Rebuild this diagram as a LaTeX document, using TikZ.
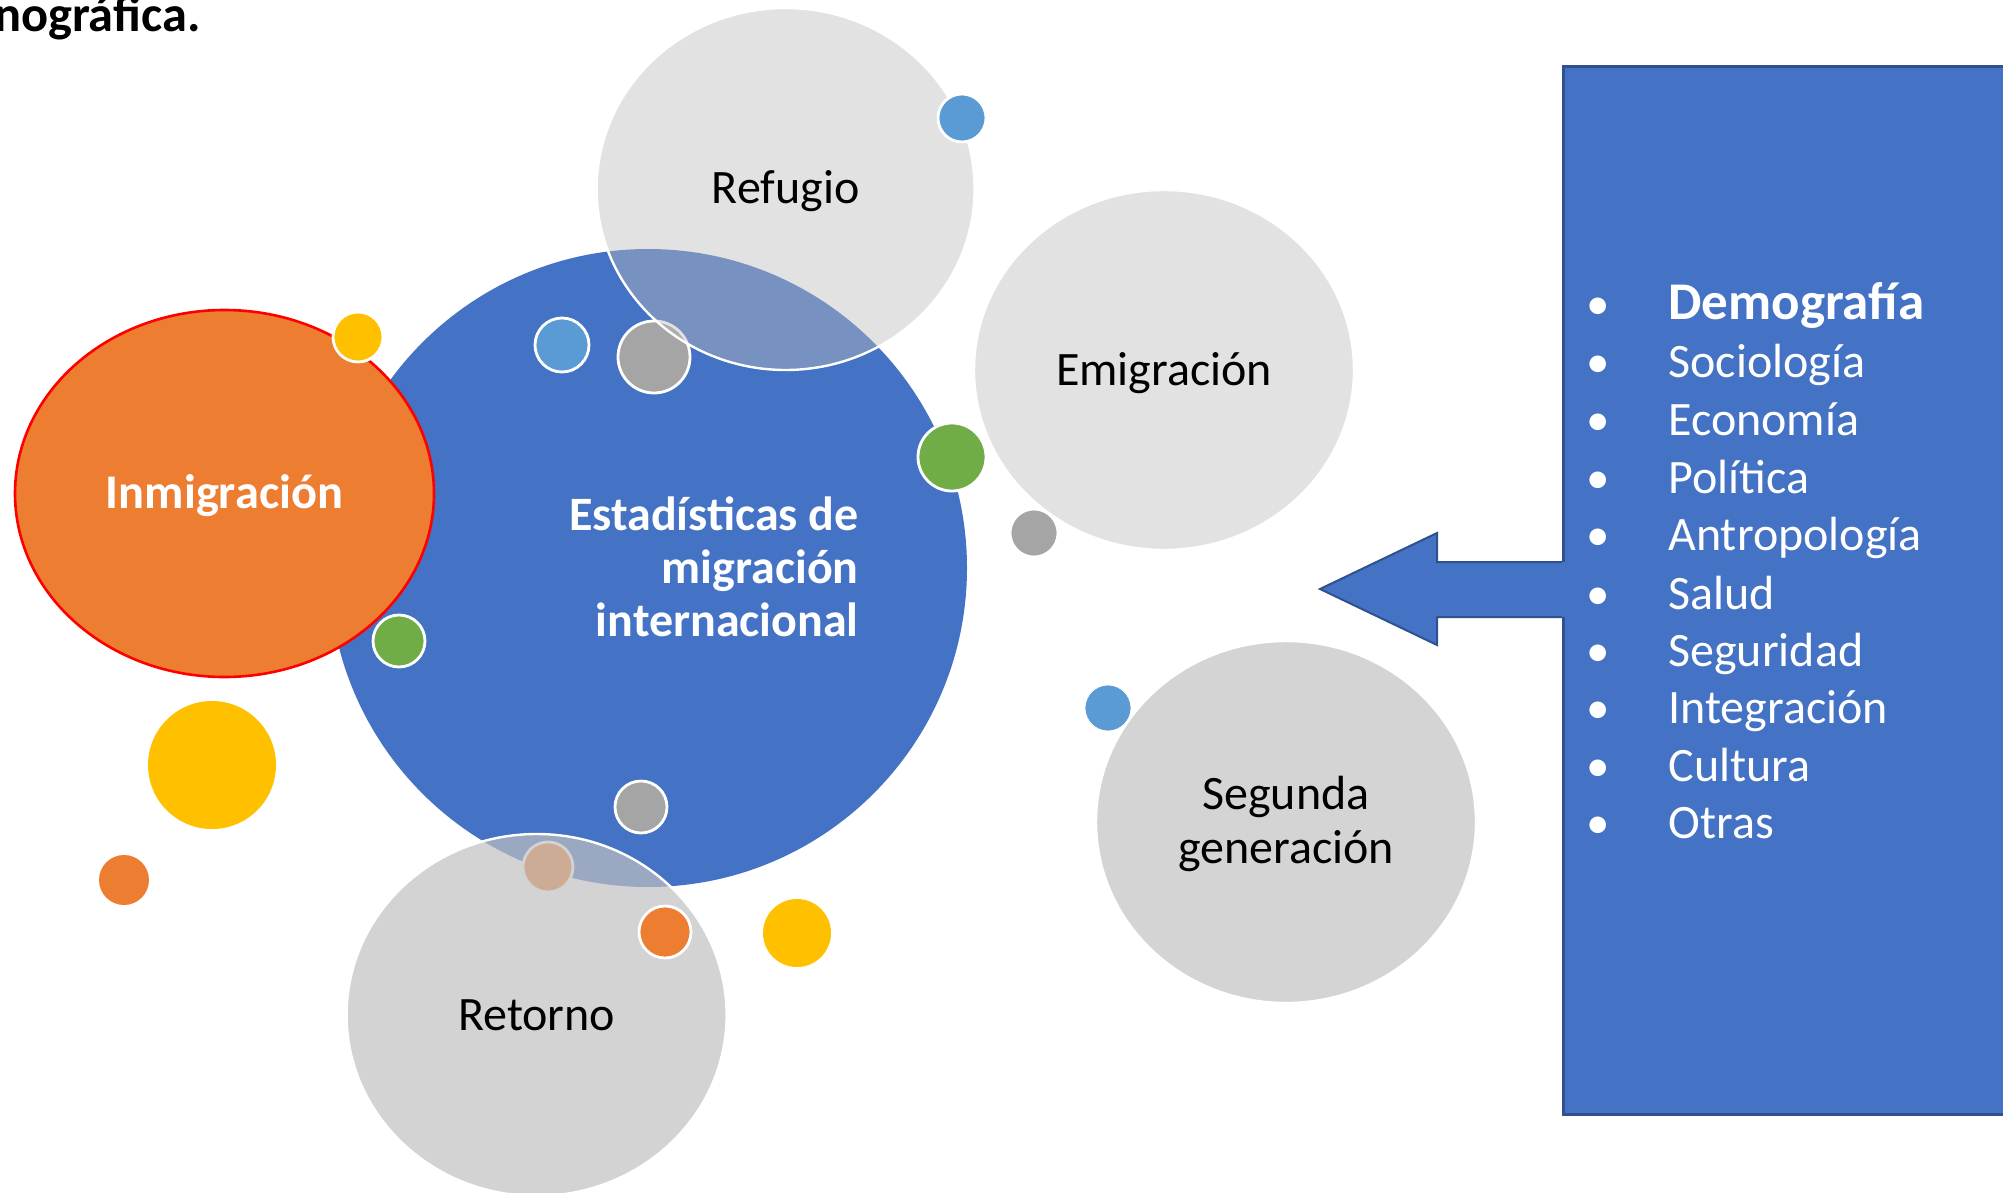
\documentclass[tikz,border=0pt]{standalone}
\usepackage{fontspec}
\setmainfont{Carlito}
\usetikzlibrary{shapes.geometric}
\definecolor{mainblue}{HTML}{4472C4}
\definecolor{darkblue}{HTML}{2F528F}
\definecolor{morange}{HTML}{ED7D31}
\definecolor{myellow}{HTML}{FFC000}
\definecolor{mgreen}{HTML}{70AD47}
\definecolor{mgray}{HTML}{A5A5A5}
\definecolor{lblue}{HTML}{5B9BD5}
\definecolor{lgrayA}{HTML}{E2E2E2}
\definecolor{lgrayB}{HTML}{D4D4D4}
\definecolor{refgray}{RGB}{188,188,188}
\definecolor{retgray}{RGB}{192,192,192}
\begin{document}
\begin{tikzpicture}[x=0.5pt,y=-0.5pt,
  dot/.style={circle, inner sep=0pt, draw=white, line width=1.4pt, minimum size=#1},
  bubble/.style={ellipse, inner sep=0pt, draw=white, line width=1.2pt},
  lbl/.style={anchor=base, inner sep=0pt, text=black, font=\fontsize{24}{27.5}\selectfont},
  listitem/.style={anchor=base west, inner sep=0pt, text=white, font=\fontsize{24}{28}\selectfont},
  bulletmark/.style={anchor=base, inner sep=0pt, text=white, font=\fontsize{23.5}{28}\selectfont},
]
\useasboundingbox (0,0) rectangle (2003,1193);

% title fragment
\node[anchor=base east, inner sep=0pt, font=\bfseries\fontsize{25.2}{29}\selectfont] (title) at (201,32) {nográfica.};

% main circle
\node[circle, inner sep=0pt, fill=mainblue, minimum size=319pt] (main) at (648,568) {};

% Inmigración
\node[ellipse, inner sep=0pt, fill=morange, draw=red, line width=1.3pt,
      minimum width=209.5pt, minimum height=183.5pt] (inmig) at (224.5,493.5) {};
\node[lbl, text=white, font=\bfseries\fontsize{24.2}{28}\selectfont] (inmigT) at (224.5,508) {Inmigración};

% dots below translucent bubbles
\node[dot=25pt, fill=myellow] (y1) at (358,337) {};
\node[dot=26pt, fill=mgreen] (g2) at (399,641) {};
\node[dot=27pt, fill=lblue] (b1) at (562,345) {};
\node[dot=36pt, fill=mgray] (gr1) at (654,357) {};
\node[dot=26pt, fill=mgray] (gr3) at (641,807) {};
\node[dot=25pt, fill=morange] (o3) at (548,867) {};

% Refugio (translucent)
\node[bubble, fill=refgray, fill opacity=0.43, text opacity=1,
      minimum width=189pt, minimum height=181pt] (refugio) at (785.6,189) {};
\node[lbl] (refugioT) at (785.6,203) {Refugio};

% Retorno (translucent)
\node[bubble, fill=retgray, fill opacity=0.7, text opacity=1,
      minimum width=190pt, minimum height=181pt] (retorno) at (536.6,1015) {};
\node[lbl] (retornoT) at (536.6,1030) {Retorno};

% dots on top
\node[dot=26pt, fill=morange] (o2) at (665,932) {};
\node[dot=24pt, fill=lblue] (b3) at (962,118) {};
\node[dot=34pt, fill=mgreen] (g1) at (952,457) {};

% Emigración
\node[dot=24pt, fill=mgray] (gr2) at (1034,533) {};
\node[bubble, fill=lgrayA, minimum width=190pt, minimum height=180pt] (emig) at (1164,370) {};
\node[lbl] (emigT) at (1164,385) {Emigración};

% Segunda generación
\node[dot=24pt, fill=lblue] (b2) at (1108,708) {};
\node[bubble, fill=lgrayB, minimum width=190pt, minimum height=181pt] (seg) at (1286,822) {};
\node[anchor=center, align=center, inner sep=0pt, text=black, font=\fontsize{24}{27}\selectfont] (segT) at (1286,824) {Segunda\\generación};

% free dots
\node[dot=64pt, draw=none, fill=myellow] (ybig) at (212,765) {};
\node[dot=25pt, draw=none, fill=morange] (o1) at (124,880) {};
\node[dot=34pt, draw=none, fill=myellow] (y2) at (797,933) {};

% centre text
\node[anchor=east, align=right, inner sep=0pt, text=white, font=\bfseries\fontsize{24}{26.6}\selectfont] (ctext) at (859,567) {Estadísticas de\\migración\\internacional};

% right panel
\node[rectangle, anchor=north west, inner sep=0pt, fill=mainblue, draw=darkblue, line width=1.5pt,
      minimum width=230pt, minimum height=524pt] (panel) at (1562,65) {};

% arrow
\coordinate (tip) at (1320,589);
\fill[mainblue] (1566,562) -- (1437,562) -- (1437,533) -- (tip) -- (1437,645) -- (1437,617) -- (1566,617) -- cycle;
\draw[darkblue, line width=1pt, line join=miter] (panel.west |- 0,562) -- (1437,562) -- (1437,533) -- (tip) -- (1437,645) -- (1437,617) -- (panel.west |- 0,617);

% list
\node[bulletmark] (bu1) at (1598,319) {•};
\node[listitem, font=\bfseries\fontsize{26.5}{30}\selectfont] (l1) at (1668,319) {Demografía};
\node[bulletmark] (bu2) at (1598,377) {•};
\node[listitem] (l2) at (1668,377) {Sociología};
\node[bulletmark] (bu3) at (1598,435) {•};
\node[listitem] (l3) at (1668,435) {Economía};
\node[bulletmark] (bu4) at (1598,493) {•};
\node[listitem] (l4) at (1668,493) {Política};
\node[bulletmark] (bu5) at (1598,550) {•};
\node[listitem] (l5) at (1668,550) {Antropología};
\node[bulletmark] (bu6) at (1598,609) {•};
\node[listitem] (l6) at (1668,609) {Salud};
\node[bulletmark] (bu7) at (1598,666) {•};
\node[listitem] (l7) at (1668,666) {Seguridad};
\node[bulletmark] (bu8) at (1598,723) {•};
\node[listitem] (l8) at (1668,723) {Integración};
\node[bulletmark] (bu9) at (1598,781) {•};
\node[listitem] (l9) at (1668,781) {Cultura};
\node[bulletmark] (bu10) at (1598,838) {•};
\node[listitem] (l10) at (1668,838) {Otras};
\end{tikzpicture}
\end{document}
